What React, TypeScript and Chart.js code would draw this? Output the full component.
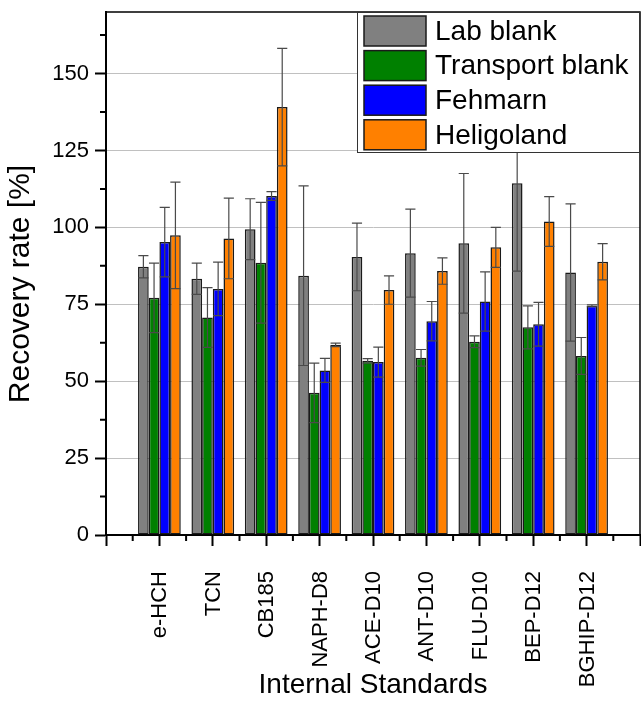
import React, { useEffect, useRef } from 'react';
import { Chart, registerables } from 'chart.js';

Chart.register(...registerables);

const categories = ['e-HCH', 'TCN', 'CB185', 'NAPH-D8', 'ACE-D10', 'ANT-D10', 'FLU-D10', 'BEP-D12', 'BGHIP-D12'];

const labBlank = [87.2, 83.3, 99.4, 84.3, 90.4, 91.6, 94.8, 114.3, 85.3];
const labBlankErr = [3.6, 5.1, 9.9, 29.2, 11.0, 14.3, 22.7, 28.5, 22.3];
const transportBlank = [77.1, 70.7, 88.5, 46.2, 56.6, 57.6, 62.8, 67.5, 58.2];
const transportBlankErr = [11.3, 9.7, 19.6, 9.7, 0.7, 2.7, 1.9, 7.0, 6.0];
const fehmarn = [95.2, 80.0, 110.2, 53.5, 56.2, 69.5, 75.9, 68.5, 74.5];
const fehmarnErr = [11.3, 8.7, 1.4, 3.9, 4.9, 6.4, 9.6, 7.1, 0.3];
const heligoland = [97.4, 96.4, 139.1, 61.8, 79.6, 85.8, 93.5, 101.9, 88.8];
const heligolandErr = [17.3, 13.1, 19.1, 0.6, 4.6, 4.3, 6.5, 8.1, 5.9];

const seriesLabels = ['Lab blank', 'Transport blank', 'Fehmarn', 'Heligoland'];
const seriesColors = ['#808080', '#008000', '#0000ff', '#ff8000'];

const yTitle = 'Recovery rate [%]';
const xTitle = 'Internal Standards';

const yMin = 0;
const yMax = 170;
const yStep = 25;
const xMin = 0;
const xMax = 10;

const FONT = '"Liberation Sans", Arial, Helvetica, sans-serif';

export default function App() {
  const ref = useRef<HTMLCanvasElement>(null);

  useEffect(() => {
    const values = [labBlank, transportBlank, fehmarn, heligoland];
    const errors = [labBlankErr, transportBlankErr, fehmarnErr, heligolandErr];

    const datasets = values.map((vals, i) => ({
      label: seriesLabels[i],
      data: vals.map((v, j) => ({ x: j + 1, y: v })),
      backgroundColor: seriesColors[i],
      borderColor: '#1a1a1a',
      borderWidth: 1.5,
      borderSkipped: false as const,
      categoryPercentage: 0.8,
      barPercentage: 1.0,
    }));

    const errorBars = {
      id: 'errorBars',
      afterDatasetsDraw(chart: any) {
        const ctx = chart.ctx;
        const yScale = chart.scales.y;
        chart.data.datasets.forEach((ds: any, i: number) => {
          const meta = chart.getDatasetMeta(i);
          meta.data.forEach((bar: any, j: number) => {
            const v = ds.data[j].y;
            const e = errors[i][j];
            const x = bar.x;
            const half = (bar.width / 2) * 0.95;
            const top = yScale.getPixelForValue(v + e);
            const bot = yScale.getPixelForValue(v - e);
            ctx.save();
            ctx.strokeStyle = '#4a4a4a';
            ctx.lineWidth = 1.2;
            ctx.beginPath();
            ctx.moveTo(x, top);
            ctx.lineTo(x, bot);
            ctx.moveTo(x - half, top);
            ctx.lineTo(x + half, top);
            ctx.moveTo(x - half, bot);
            ctx.lineTo(x + half, bot);
            ctx.stroke();
            ctx.restore();
          });
        });
      },
    };

    const frameAndMinor = {
      id: 'frameAndMinor',
      afterDraw(chart: any) {
        const ctx = chart.ctx;
        const { left, right, top, bottom } = chart.chartArea;
        const xs = chart.scales.x;
        const ys = chart.scales.y;
        ctx.save();
        ctx.strokeStyle = '#000';
        ctx.lineWidth = 1.5;
        ctx.beginPath();
        ctx.moveTo(left, top);
        ctx.lineTo(right, top);
        ctx.lineTo(right, bottom);
        ctx.stroke();
        ctx.lineWidth = 2;
        ctx.beginPath();
        for (let v = xMin + 0.5; v < xMax; v += 1) {
          const px = xs.getPixelForValue(v);
          ctx.moveTo(px, bottom);
          ctx.lineTo(px, bottom + 6);
        }
        for (let v = yMin + yStep / 2; v < yMax; v += yStep) {
          const py = ys.getPixelForValue(v);
          ctx.moveTo(left, py);
          ctx.lineTo(left - 6, py);
        }
        ctx.stroke();
        // y axis title
        ctx.fillStyle = '#000';
        ctx.font = `30px ${FONT}`;
        ctx.textAlign = 'center';
        ctx.textBaseline = 'middle';
        ctx.translate(21, 284);
        ctx.rotate(-Math.PI / 2);
        ctx.fillText(yTitle, 0, 0);
        ctx.restore();
      },
    };

    const boxLegend = {
      id: 'boxLegend',
      afterDraw(chart: any) {
        const ctx = chart.ctx;
        const { right, top } = chart.chartArea;
        const boxW = 283;
        const boxH = 141;
        const bx = right - boxW;
        const by = top;
        ctx.save();
        ctx.fillStyle = '#ffffff';
        ctx.fillRect(bx, by, boxW, boxH);
        ctx.strokeStyle = '#333';
        ctx.lineWidth = 1;
        ctx.strokeRect(bx + 0.5, by + 0.5, boxW - 1, boxH - 1);
        ctx.font = `28px ${FONT}`;
        ctx.textBaseline = 'middle';
        ctx.textAlign = 'left';
        chart.data.datasets.forEach((ds: any, i: number) => {
          const rowTop = by + 4 + i * 34.6;
          ctx.fillStyle = ds.backgroundColor;
          ctx.fillRect(bx + 7, rowTop, 62, 30);
          ctx.strokeStyle = '#1a1a1a';
          ctx.lineWidth = 1.5;
          ctx.strokeRect(bx + 7, rowTop, 62, 30);
          ctx.fillStyle = '#000';
          ctx.fillText(ds.label, bx + 78, rowTop + 16);
        });
        ctx.restore();
      },
    };

    const chart = new Chart(ref.current as HTMLCanvasElement, {
      type: 'bar',
      data: { datasets: datasets as any },
      options: {
        responsive: false,
        animation: false,
        devicePixelRatio: 1,
        layout: { padding: { top: 12, right: 1, left: 0, bottom: 0 } },
        plugins: {
          legend: { display: false },
          tooltip: { enabled: false },
        },
        scales: {
          x: {
            type: 'linear',
            min: xMin,
            max: xMax,
            offset: false,
            afterFit: (s: any) => {
              s.height = 174;
              s.paddingLeft = 0;
              s.paddingRight = 0;
            },
            grid: {
              offset: false,
              drawOnChartArea: false,
              drawTicks: true,
              tickLength: 11,
              tickWidth: 2,
              tickColor: '#000',
            },
            border: { display: true, color: '#000', width: 2 },
            ticks: {
              stepSize: 1,
              autoSkip: false,
              maxTicksLimit: 100,
              maxRotation: 90,
              minRotation: 90,
              padding: 25,
              labelOffset: 1,
              color: '#000',
              font: { family: FONT, size: 22 },
              callback: (v: any) => {
                const n = Number(v);
                return Number.isInteger(n) && n >= 1 && n <= categories.length ? categories[n - 1] : '';
              },
            },
            title: {
              display: true,
              text: xTitle,
              color: '#000',
              font: { family: FONT, size: 28 },
              padding: { top: 0, bottom: 7 },
            },
          } as any,
          y: {
            min: yMin,
            max: yMax,
            afterFit: (s: any) => {
              s.width = 106;
              s.paddingTop = 0;
              s.paddingBottom = 0;
            },
            grid: {
              color: (c: any) => (c.tick && c.tick.value === 0 ? 'rgba(0,0,0,0)' : '#c0c0c0'),
              lineWidth: 1,
              drawTicks: true,
              tickLength: 11,
              tickWidth: 2,
              tickColor: '#000',
            },
            border: { display: true, color: '#000', width: 2 },
            ticks: {
              stepSize: yStep,
              includeBounds: false,
              maxTicksLimit: 100,
              padding: 6,
              color: '#000',
              font: { family: FONT, size: 22 },
            },
            title: { display: false },
          } as any,
        },
      },
      plugins: [errorBars, frameAndMinor, boxLegend],
    });

    return () => chart.destroy();
  }, []);

  return (
    <div style={{ position: 'absolute', left: 0, top: 0, width: 641, height: 709 }}>
      <canvas ref={ref} width={641} height={709} style={{ display: 'block', width: 641, height: 709 }} />
    </div>
  );
}
